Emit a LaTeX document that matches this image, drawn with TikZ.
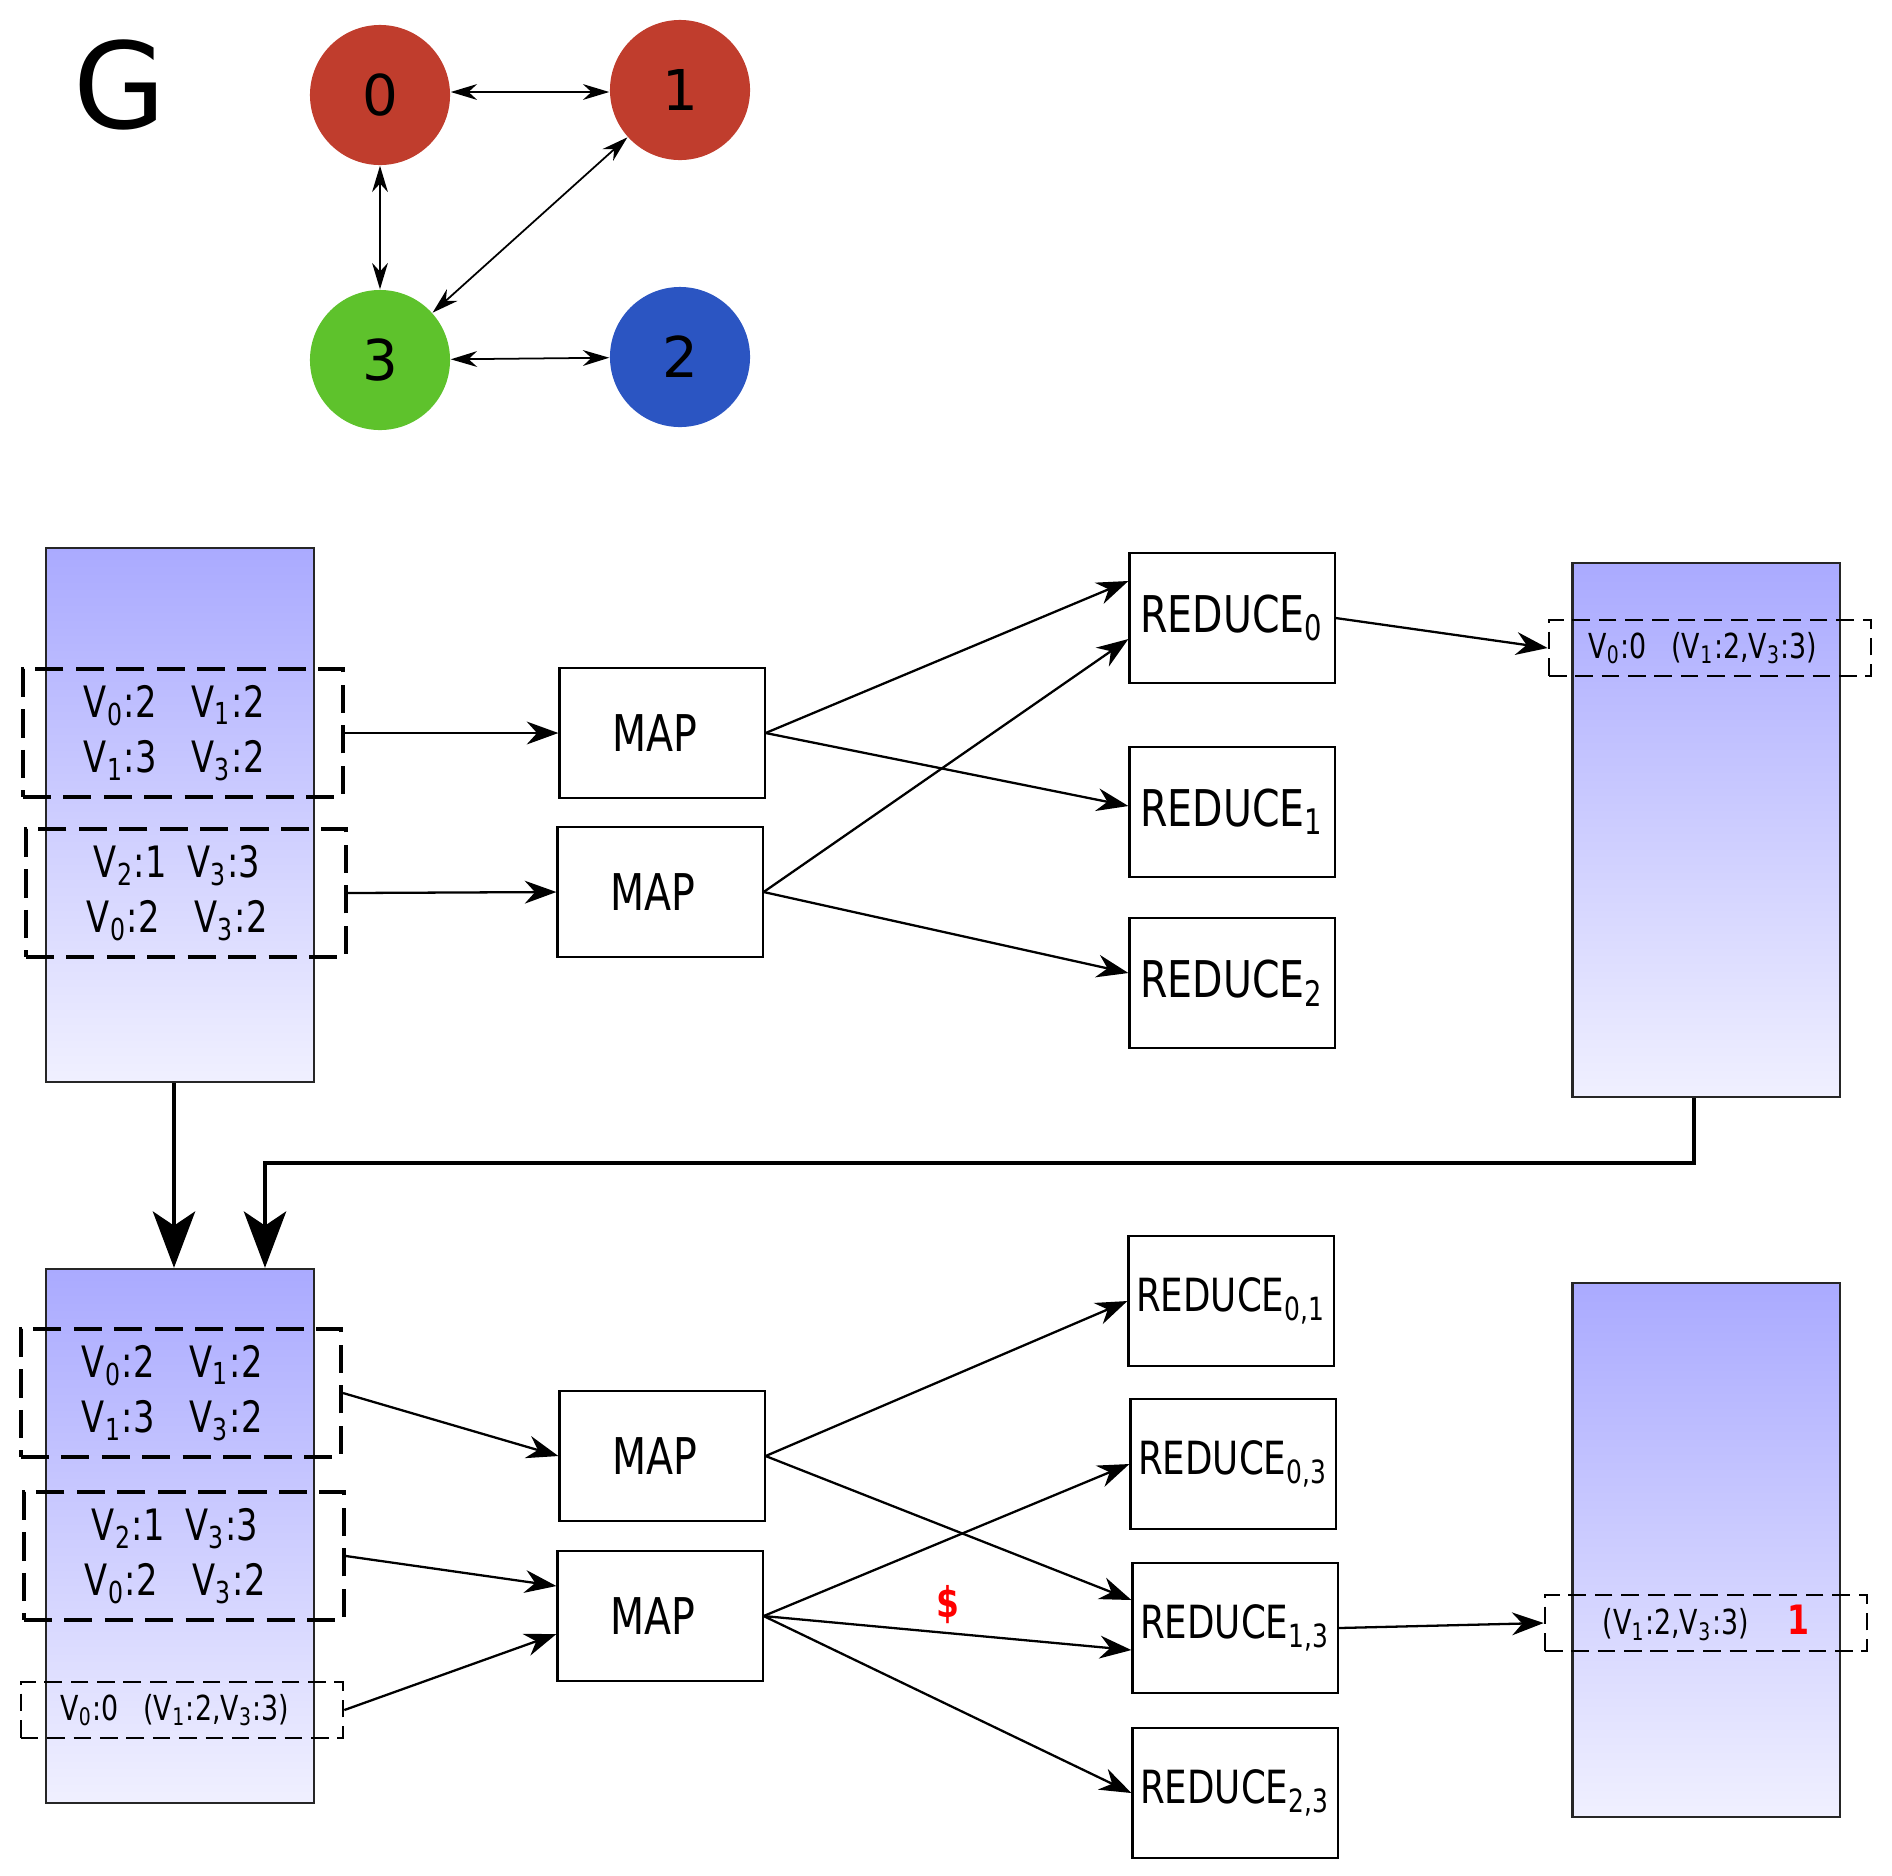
\documentclass[tikz,border=0pt]{standalone}
\usepackage{fontspec}
\setmainfont{DejaVu Sans}[FakeStretch=0.78]
\newfontfamily\graphfont{DejaVu Sans}
\usetikzlibrary{arrows.meta}

\definecolor{vred}{RGB}{192,61,45}
\definecolor{vgreen}{RGB}{94,194,44}
\definecolor{vblue}{RGB}{43,85,194}
\definecolor{memtop}{RGB}{170,170,255}
\definecolor{membot}{RGB}{240,240,255}

\newcommand{\vk}[2]{V\textsubscript{#1}:#2}

\tikzset{
  vertex/.style={circle, minimum size=1.4cm, inner sep=0pt, font=\graphfont\fontsize{16}{19}\selectfont},
  edge/.style={{Stealth[length=7.5pt,width=4.5pt]}-{Stealth[length=7.5pt,width=4.5pt]}, line width=0.5pt},
  memory/.style={draw=black!85, line width=0.6pt, top color=memtop, bottom color=membot, minimum width=2.67cm, minimum height=5.34cm, inner sep=0pt},
  chunk/.style={draw, line width=1.1pt, dash pattern=on 8pt off 3.5pt, minimum width=3.2cm, minimum height=1.28cm, inner sep=0pt, align=center, font=\fontsize{12.3}{15.8}\selectfont},
  record/.style={draw, line width=0.7pt, dash pattern=on 5pt off 2.5pt, minimum width=3.22cm, minimum height=0.56cm, inner sep=0pt, font=\fontsize{9.8}{11}\selectfont},
  task/.style={draw, line width=0.6pt, minimum width=2.05cm, minimum height=1.3cm, inner sep=0pt, font=\fontsize{14.4}{17}\selectfont},
  pairtask/.style={task, font=\fontsize{13}{16}\selectfont},
  flow/.style={-{Stealth[length=9pt,width=6.5pt]}, line width=0.65pt},
  pass/.style={-{Stealth[length=16pt,width=12pt,inset=4pt]}, line width=1.3pt},
}

\begin{document}
\begin{tikzpicture}[x=0.01cm,y=-0.01cm]
    \useasboundingbox (0,0) rectangle (1892,1875);

    % the graph
    \node[font=\graphfont\fontsize{34}{40}\selectfont] (title) at (120,85) {G};
    \node[vertex, fill=vred] (v0) at (380,95) {0};
    \node[vertex, fill=vred] (v1) at (680,90) {1};
    \node[vertex, fill=vgreen] (v3) at (380,360) {3};
    \node[vertex, fill=vblue] (v2) at (680,357) {2};
    \draw[edge] (v0.east |- 0,92) -- (v1.west |- 0,92);
    \draw[edge] (v0) -- (v3);
    \draw[edge] (v1) -- (v3);
    \draw[edge] (v3) -- (v2);

    % first round
    \node[memory] (colA) at (180,815) {};
    \node[chunk] (blkA1) at (183,733) {\vk{0}{2}\hspace{10pt}\vk{1}{2}\hspace*{5pt}\\\vk{1}{3}\hspace{10pt}\vk{3}{2}\hspace*{5pt}};
    \node[chunk] (blkA2) at (186,893) {\vk{2}{1}\hspace{6pt}\vk{3}{3}\hspace*{5pt}\\\vk{0}{2}\hspace{10pt}\vk{3}{2}\hspace*{5pt}};
    \node[task] (mapA1) at (662,733) {MAP\hspace*{4pt}};
    \node[task] (mapA2) at (660,892) {MAP\hspace*{4pt}};
    \node[task] (redA0) at (1232,618) {REDUCE\textsubscript{0}};
    \node[task] (redA1) at (1232,812) {REDUCE\textsubscript{1}};
    \node[task] (redA2) at (1232,983) {REDUCE\textsubscript{2}};
    \node[memory] (colR1) at (1706,830) {};
    \node[record] (blkR1) at (1710,648) {\vk{0}{0}\hspace{7pt}(V\textsubscript{1}:2,V\textsubscript{3}:3)\hspace*{4pt}};

    \draw[flow] (blkA1.east) -- (mapA1.west);
    \draw[flow] (blkA2.east) -- (mapA2.west);
    \draw[flow] (mapA1.east) -- ([yshift=0.37cm]redA0.west);
    \draw[flow] (mapA1.east) -- ([yshift=0.06cm]redA1.west);
    \draw[flow] (mapA2.east) -- ([yshift=-0.21cm]redA0.west);
    \draw[flow] (mapA2.east) -- ([yshift=0.1cm]redA2.west);
    \draw[flow] (redA0.east) -- (blkR1.west);

    % second round
    \node[memory] (colB) at (180,1536) {};
    \node[chunk] (blkB1) at (181,1393) {\vk{0}{2}\hspace{10pt}\vk{1}{2}\hspace*{5pt}\\\vk{1}{3}\hspace{10pt}\vk{3}{2}\hspace*{5pt}};
    \node[chunk] (blkB2) at (184,1556) {\vk{2}{1}\hspace{6pt}\vk{3}{3}\hspace*{5pt}\\\vk{0}{2}\hspace{10pt}\vk{3}{2}\hspace*{5pt}};
    \node[record] (blkB3) at (182,1710) {\vk{0}{0}\hspace{7pt}(V\textsubscript{1}:2,V\textsubscript{3}:3)\hspace*{4pt}};
    \node[task] (mapB1) at (662,1456) {MAP\hspace*{4pt}};
    \node[task] (mapB2) at (660,1616) {MAP\hspace*{4pt}};
    \node[pairtask] (redB01) at (1231,1301) {REDUCE\textsubscript{0,1}};
    \node[pairtask] (redB03) at (1233,1464) {REDUCE\textsubscript{0,3}};
    \node[pairtask] (redB13) at (1235,1628) {REDUCE\textsubscript{1,3}};
    \node[pairtask] (redB23) at (1235,1793) {REDUCE\textsubscript{2,3}};
    \node[memory] (colR2) at (1706,1550) {};
    \node[record] (blkR2) at (1706,1623) {(V\textsubscript{1}:2,V\textsubscript{3}:3)\hspace{11pt}\textcolor{red}{\bfseries\fontsize{11.5}{13}\selectfont 1}};

    \draw[flow] (blkB1.east) -- (mapB1.west);
    \draw[flow] (blkB2.east) -- ([yshift=0.3cm]mapB2.west);
    \draw[flow] (blkB3.east) -- ([yshift=-0.18cm]mapB2.west);
    \draw[flow] (mapB1.east) -- (redB01.west);
    \draw[flow] (mapB1.east) -- ([yshift=0.28cm]redB13.west);
    \draw[flow] (mapB2.east) -- (redB03.west);
    \draw[flow] (mapB2.east) -- ([yshift=-0.22cm]redB13.west)
        node[pos=0.5, above=-1pt, text=red, font=\bfseries\fontsize{12}{14}\selectfont] (cost) {\$};
    \draw[flow] (mapB2.east) -- (redB23.west);
    \draw[flow] (redB13.east) -- (blkR2.west);

    % from one round to the next
    \coordinate (turn) at (265,1163);
    \draw[pass] ([xshift=-0.06cm]colA.south) -- ([xshift=-0.06cm]colB.north);
    \draw[pass] ([xshift=-0.12cm]colR1.south) |- (turn) -- (turn |- colB.north);
\end{tikzpicture}
\end{document}
